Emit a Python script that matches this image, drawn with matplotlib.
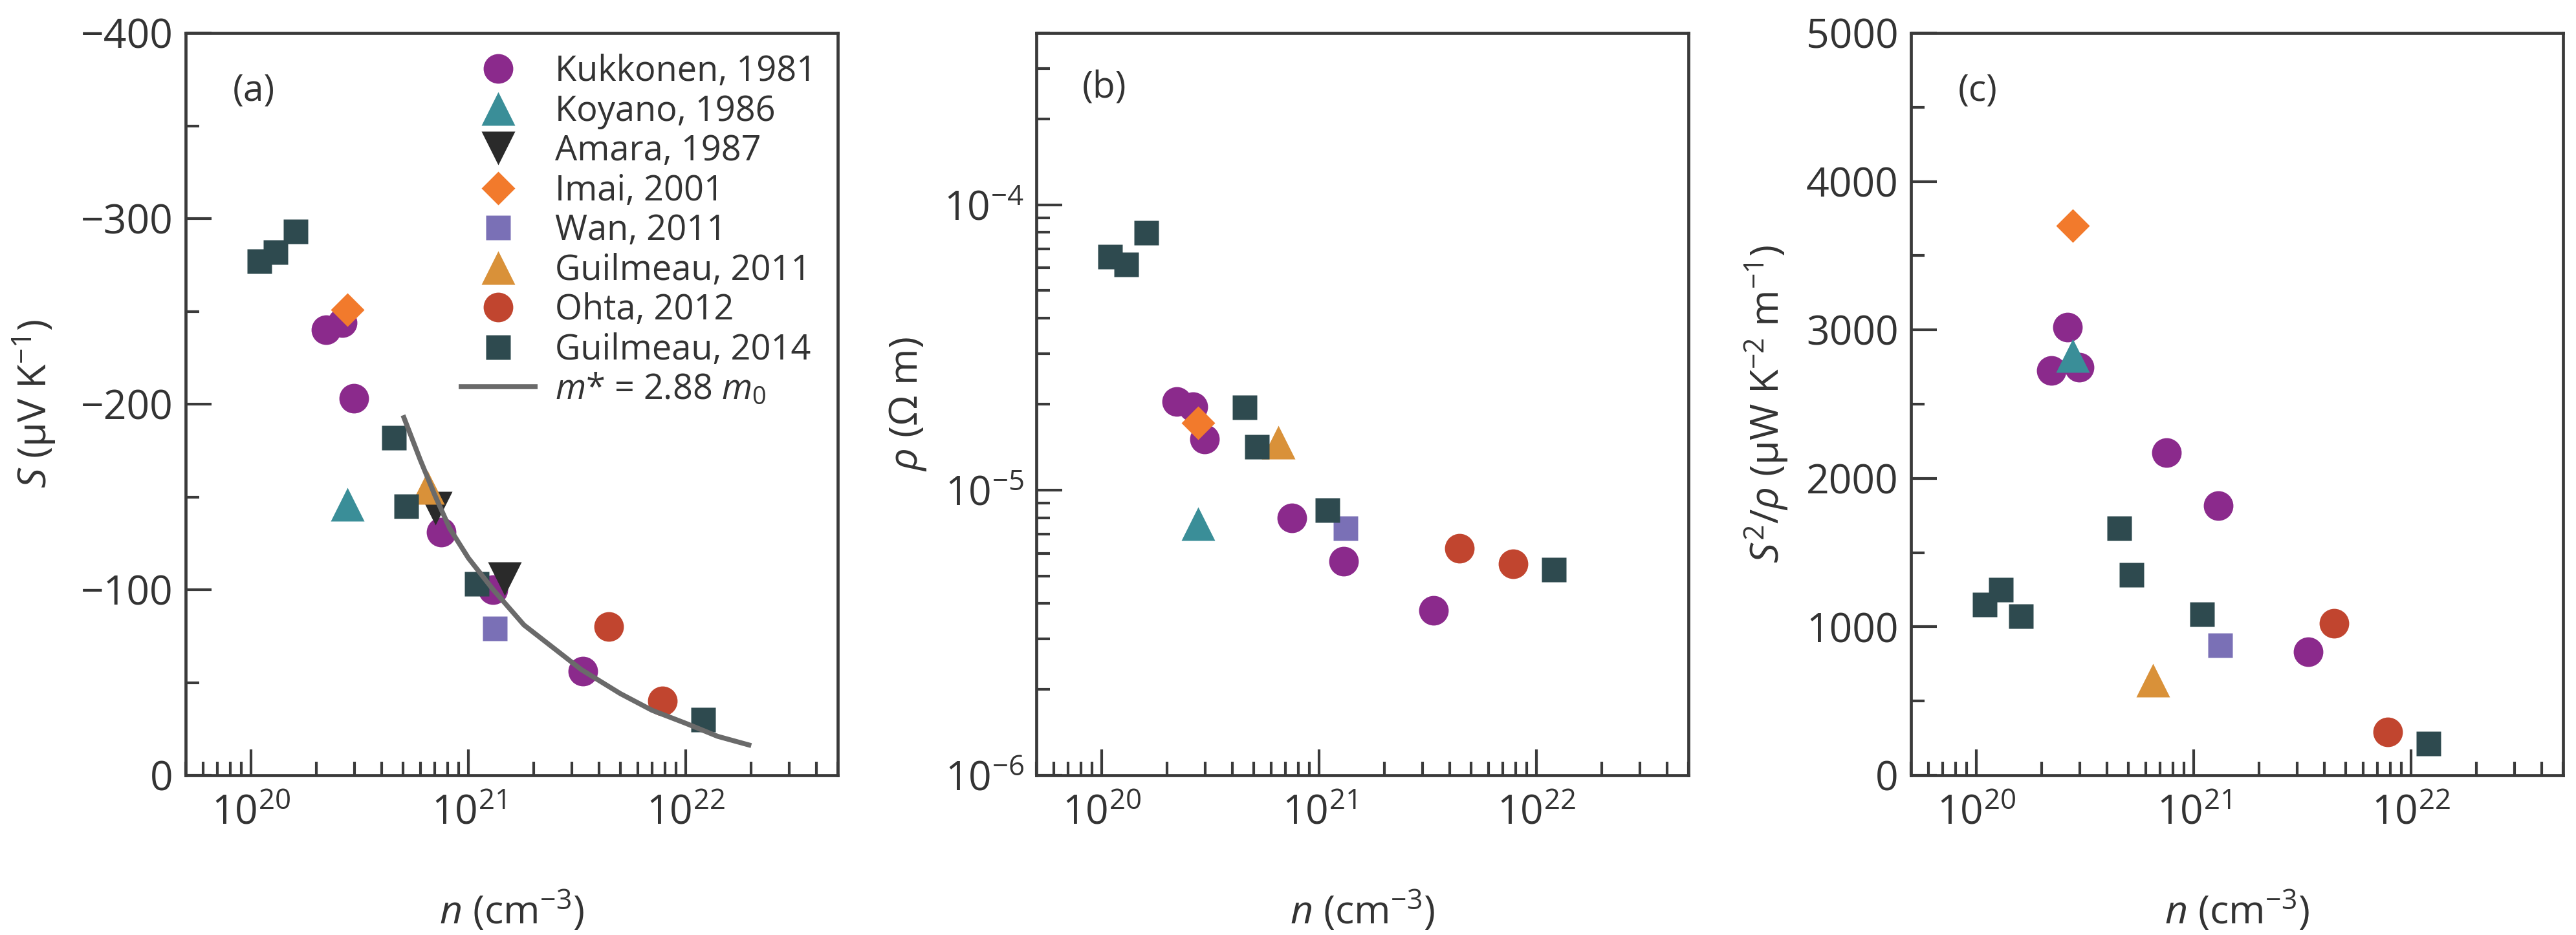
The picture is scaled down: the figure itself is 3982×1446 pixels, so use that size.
import matplotlib
matplotlib.use('Agg')
import matplotlib.pyplot as plt
from matplotlib.ticker import LogLocator, MultipleLocator, NullFormatter

FONT = 'Open Sans'
plt.rcParams['font.family'] = [FONT, 'DejaVu Sans']
plt.rcParams['mathtext.fontset'] = 'custom'
plt.rcParams['mathtext.rm'] = FONT
plt.rcParams['mathtext.it'] = FONT + ':italic'
plt.rcParams['mathtext.bf'] = FONT + ':bold'

# ---------------- data ----------------
series_names = ['Kukkonen, 1981', 'Koyano, 1986', 'Amara, 1987', 'Imai, 2001',
                'Wan, 2011', 'Guilmeau, 2011', 'Ohta, 2012', 'Guilmeau, 2014']

kukkonen_n = [2.21e20, 2.62e20, 2.97e20, 7.5e20, 1.30e21, 3.35e21]
kukkonen_S = [-240, -244, -203, -131, -100, -56]
kukkonen_rho = [2.04e-5, 1.96e-5, 1.51e-5, 7.98e-6, 5.64e-6, 3.78e-6]
kukkonen_PF = [2727, 3019, 2747, 2173, 1816, 834]

koyano_n = [2.77e20]
koyano_S = [-146]
koyano_rho = [7.6e-6]
koyano_PF = [2827]

amara_n = [7.03e20, 1.47e21]
amara_S = [-144, -106]

imai_n = [2.77e20]
imai_S = [-251]
imai_rho = [1.72e-5]
imai_PF = [3701]

wan_n = [1.32e21]
wan_S = [-79]
wan_rho = [7.34e-6]
wan_PF = [874]

guilmeau11_n = [6.5e20]
guilmeau11_S = [-155]
guilmeau11_rho = [1.47e-5]
guilmeau11_PF = [642]

ohta_n = [4.42e21, 7.8e21]
ohta_S = [-80, -40]
ohta_rho = [6.26e-6, 5.5e-6]
ohta_PF = [1022, 293]

guilmeau14_n = [1.09e20, 1.30e20, 1.60e20, 4.55e20, 5.17e20, 1.09e21, 1.2e22]
guilmeau14_S = [-277, -282, -293, -182, -145, -103, -30]
guilmeau14_rho = [6.58e-5, 6.18e-5, 7.97e-5, 1.95e-5, 1.42e-5, 8.49e-6, 5.25e-6]
guilmeau14_PF = [1151, 1251, 1071, 1664, 1351, 1083, 213]

model_label = r'$m$* = 2.88 $m$$_0$'
model_n = [5.0e20, 6.0e20, 7.0e20, 8.2e20, 1.0e21, 1.3e21, 1.8e21, 2.5e21,
           3.3e21, 5.0e21, 7.0e21, 1.0e22, 1.4e22, 2.0e22]
model_S = [-194, -170, -151, -133, -117, -100, -81, -68,
           -57, -44, -35, -28, -21, -16]

# ---------------- styles ----------------
TEXT = '#333333'
SPINE = '#3a3a3a'
styles = {
    'Kukkonen, 1981': dict(marker='o', color='#8B2A8C', ms=33),
    'Koyano, 1986': dict(marker='^', color='#3A8E98', ms=37),
    'Amara, 1987': dict(marker='v', color='#2a2a2a', ms=37),
    'Imai, 2001': dict(marker='D', color='#F27A2C', ms=26),
    'Wan, 2011': dict(marker='s', color='#7A70B6', ms=28),
    'Guilmeau, 2011': dict(marker='^', color='#D99139', ms=37),
    'Ohta, 2012': dict(marker='o', color='#C1452F', ms=33),
    'Guilmeau, 2014': dict(marker='s', color='#2E4A4F', ms=28),
}

panel_a = {
    'Kukkonen, 1981': (kukkonen_n, kukkonen_S),
    'Koyano, 1986': (koyano_n, koyano_S),
    'Amara, 1987': (amara_n, amara_S),
    'Imai, 2001': (imai_n, imai_S),
    'Wan, 2011': (wan_n, wan_S),
    'Guilmeau, 2011': (guilmeau11_n, guilmeau11_S),
    'Ohta, 2012': (ohta_n, ohta_S),
    'Guilmeau, 2014': (guilmeau14_n, guilmeau14_S),
}
panel_b = {
    'Kukkonen, 1981': (kukkonen_n, kukkonen_rho),
    'Koyano, 1986': (koyano_n, koyano_rho),
    'Imai, 2001': (imai_n, imai_rho),
    'Wan, 2011': (wan_n, wan_rho),
    'Guilmeau, 2011': (guilmeau11_n, guilmeau11_rho),
    'Ohta, 2012': (ohta_n, ohta_rho),
    'Guilmeau, 2014': (guilmeau14_n, guilmeau14_rho),
}
panel_c = {
    'Kukkonen, 1981': (kukkonen_n, kukkonen_PF),
    'Koyano, 1986': (koyano_n, koyano_PF),
    'Imai, 2001': (imai_n, imai_PF),
    'Wan, 2011': (wan_n, wan_PF),
    'Guilmeau, 2011': (guilmeau11_n, guilmeau11_PF),
    'Ohta, 2012': (ohta_n, ohta_PF),
    'Guilmeau, 2014': (guilmeau14_n, guilmeau14_PF),
}

# ---------------- figure ----------------
W, H = 3982, 1446
fig = plt.figure(figsize=(W / 100, H / 100), dpi=100)
fig.patch.set_facecolor('white')

ax_w = 1008 / W
ax_h = 1148 / H
ax_b = 1 - 1199 / H
lefts = [287 / W, 1602 / W, 2954 / W]
axes = [fig.add_axes([l, ax_b, ax_w, ax_h]) for l in lefts]

TICK_FS = 45
LABEL_FS = 44
PANEL_FS = 41
LEG_FS = 39

def style_axis(ax):
    for sp in ax.spines.values():
        sp.set_linewidth(3.4)
        sp.set_color(SPINE)
    ax.set_xscale('log')
    ax.set_xlim(5e19, 5e22)
    ax.xaxis.set_major_locator(LogLocator(base=10, numticks=10))
    ax.xaxis.set_minor_locator(LogLocator(base=10, subs=range(2, 10), numticks=20))
    ax.xaxis.set_minor_formatter(NullFormatter())
    ax.tick_params(which='both', direction='in', color=SPINE, width=3.0,
                   labelsize=TICK_FS, labelcolor=TEXT, top=False, right=False)
    ax.tick_params(which='major', length=29)
    ax.tick_params(which='minor', length=15)
    ax.tick_params(axis='x', which='both', pad=20)
    ax.tick_params(axis='y', which='both', pad=14)
    ax.set_xlabel(r'$n$ (cm$^{-3}$)', fontsize=LABEL_FS, color=TEXT)
    ax.xaxis.set_label_coords(0.5, -0.183)
    ax.xaxis.label.set_va('center')

def draw(ax, data):
    for name in series_names:
        if name not in data:
            continue
        x, y = data[name]
        st = styles[name]
        ax.plot(x, y, linestyle='none', marker=st['marker'], ms=st['ms'],
                color=st['color'], mec='none', label=name, zorder=3)

# (a)
ax = axes[0]
style_axis(ax)
draw(ax, panel_a)
ax.plot(model_n, model_S, color='#6a6a6a', lw=5.5, label=model_label, zorder=4,
        solid_capstyle='butt', solid_joinstyle='round')
ax.set_ylim(0, -400)
ax.yaxis.set_major_locator(MultipleLocator(100))
ax.yaxis.set_minor_locator(MultipleLocator(50))
ax.set_ylabel(r'$S$ (μV K$^{-1}$)', fontsize=LABEL_FS, color=TEXT)
ax.yaxis.set_label_coords(-0.232, 0.5)
ax.yaxis.label.set_va('center')
leg = ax.legend(loc='upper left', bbox_to_anchor=(0.419, 0.972), frameon=False,
                fontsize=LEG_FS, labelcolor=TEXT, borderpad=0, borderaxespad=0,
                handlelength=2.24, handletextpad=0.5, labelspacing=0.12,
                markerscale=1.0, numpoints=1)
ax.text(0.072, 0.922, '(a)', transform=ax.transAxes, fontsize=PANEL_FS, color=TEXT,
        ha='left', va='center')

# (b)
ax = axes[1]
style_axis(ax)
draw(ax, panel_b)
ax.set_yscale('log')
ax.set_ylim(1e-6, 4e-4)
ax.yaxis.set_major_locator(LogLocator(base=10, numticks=10))
ax.yaxis.set_minor_locator(LogLocator(base=10, subs=range(2, 10), numticks=20))
ax.yaxis.set_minor_formatter(NullFormatter())
ax.tick_params(axis='y', which='major', length=29)
ax.tick_params(axis='y', which='minor', length=15)
ax.set_ylabel(r'$\rho$ ($\Omega$ m)', fontsize=LABEL_FS, color=TEXT)
ax.yaxis.set_label_coords(-0.197, 0.5)
ax.yaxis.label.set_va('center')
ax.text(0.07, 0.925, '(b)', transform=ax.transAxes, fontsize=PANEL_FS, color=TEXT,
        ha='left', va='center')

# (c)
ax = axes[2]
style_axis(ax)
draw(ax, panel_c)
ax.set_ylim(0, 5000)
ax.yaxis.set_major_locator(MultipleLocator(1000))
ax.yaxis.set_minor_locator(MultipleLocator(500))
ax.set_ylabel(r'$S^2/\rho$ (μW K$^{-2}$ m$^{-1}$)', fontsize=LABEL_FS, color=TEXT)
ax.yaxis.set_label_coords(-0.221, 0.5)
ax.yaxis.label.set_va('center')
ax.text(0.072, 0.922, '(c)', transform=ax.transAxes, fontsize=PANEL_FS, color=TEXT,
        ha='left', va='center')

fig.savefig('out.png', dpi=100, facecolor='white')
